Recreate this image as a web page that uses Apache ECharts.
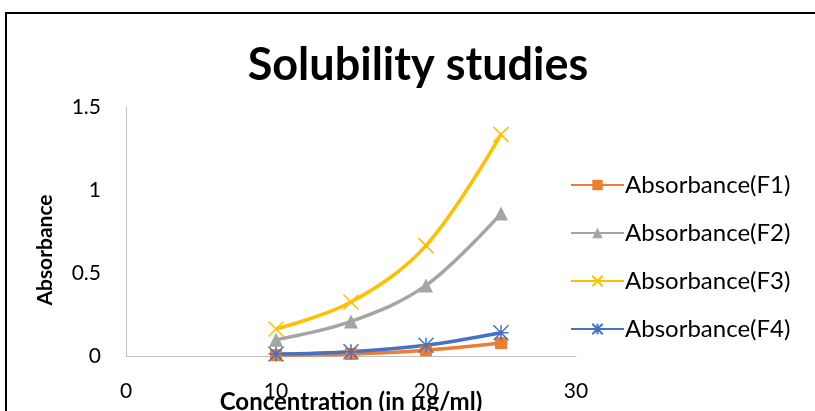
<!DOCTYPE html>
<html><head><meta charset="utf-8">
<script src="https://cdn.jsdelivr.net/npm/echarts@6/dist/echarts.min.js"></script>
<style>html,body{margin:0;padding:0;background:#fff}#c{width:815px;height:411px}</style>
</head><body><div id="c"></div>
<script>
const xValues = [10, 15, 20, 25];
const seriesNames = ['Absorbance(F1)', 'Absorbance(F2)', 'Absorbance(F3)', 'Absorbance(F4)'];
const f1 = [0.005, 0.012, 0.035, 0.078];
const f2 = [0.098, 0.208, 0.425, 0.858];
const f3 = [0.163, 0.325, 0.665, 1.335];
const f4 = [0.012, 0.026, 0.065, 0.14];
const yTicks = [0, 0.5, 1, 1.5];
const xTicks = [0, 10, 20, 30];

const colors = ['#ED7D31', '#A5A5A5', '#FFC000', '#4472C4'];
const symbols = ['rect', 'triangle', 'path://M0,0L10,10M10,0L0,10', 'path://M0,0L10,10M10,0L0,10M5,0L5,10M0,5L10,5'];
const symSizes = [12, 14, 15, 15];
const all = [f1, f2, f3, f4];
const font = 'Lato, "Open Sans", sans-serif';

const chart = echarts.init(document.getElementById('c'));
chart.setOption({
  animation: false,
  title: { text: 'Solubility studies', left: 413, top: 38, textAlign: 'center',
    textStyle: { fontFamily: font, fontSize: 45, fontWeight: 'bold', color: '#000' } },
  graphic: [
    { type: 'rect', shape: { x: 6, y: 13, width: 830, height: 420 },
      style: { fill: 'none', stroke: '#000', lineWidth: 2 }, silent: true },
    { type: 'text', x: 45, y: 250, rotation: Math.PI / 2,
      style: { text: 'Absorbance', fontFamily: font, fontSize: 21, fontWeight: 'bold', fill: '#000',
        align: 'center', verticalAlign: 'middle' }, silent: true }
  ],
  grid: { left: 126, right: 239, top: 107, bottom: 55, outerBoundsMode: 'none', containLabel: false },
  legend: {
    orient: 'vertical', left: 565, top: 168, itemGap: 24, itemWidth: 53, itemHeight: 13,
    textStyle: { fontFamily: font, fontSize: 24, color: '#000', padding: [0,0,0,-4] },
    data: seriesNames
  },
  xAxis: { type: 'value', min: 0, max: 30, interval: 10,
    name: 'Concentration (in µg/ml)', nameLocation: 'middle', nameGap: 34, nameMoveOverlap: false,
    nameTextStyle: { fontFamily: font, fontSize: 24, fontWeight: 'bold', color: '#000' },
    axisLine: { show: true, lineStyle: { color: '#BFBFBF', width: 1 } },
    axisTick: { show: false }, splitLine: { show: false },
    axisLabel: { fontFamily: font, fontSize: 21, color: '#000', margin: 25,
      formatter: v => xTicks.includes(v) ? String(v) : '' } },
  yAxis: { type: 'value', min: 0, max: 1.5, interval: 0.5,
    axisLine: { show: true, lineStyle: { color: '#BFBFBF', width: 1 } },
    axisTick: { show: false }, splitLine: { show: false },
    axisLabel: { fontFamily: font, fontSize: 21, color: '#000', margin: 25,
      formatter: v => yTicks.includes(v) ? String(v) : '' } },
  series: all.map((d, i) => ({
    name: seriesNames[i], type: 'line', smooth: 0.35,
    data: xValues.map((x, j) => [x, d[j]]),
    symbol: symbols[i], symbolSize: symSizes[i],
    lineStyle: { color: colors[i], width: 3.5 },
    itemStyle: { color: colors[i], borderColor: colors[i], borderWidth: i >= 2 ? 1.5 : 0 }
  }))
});
</script></body></html>
